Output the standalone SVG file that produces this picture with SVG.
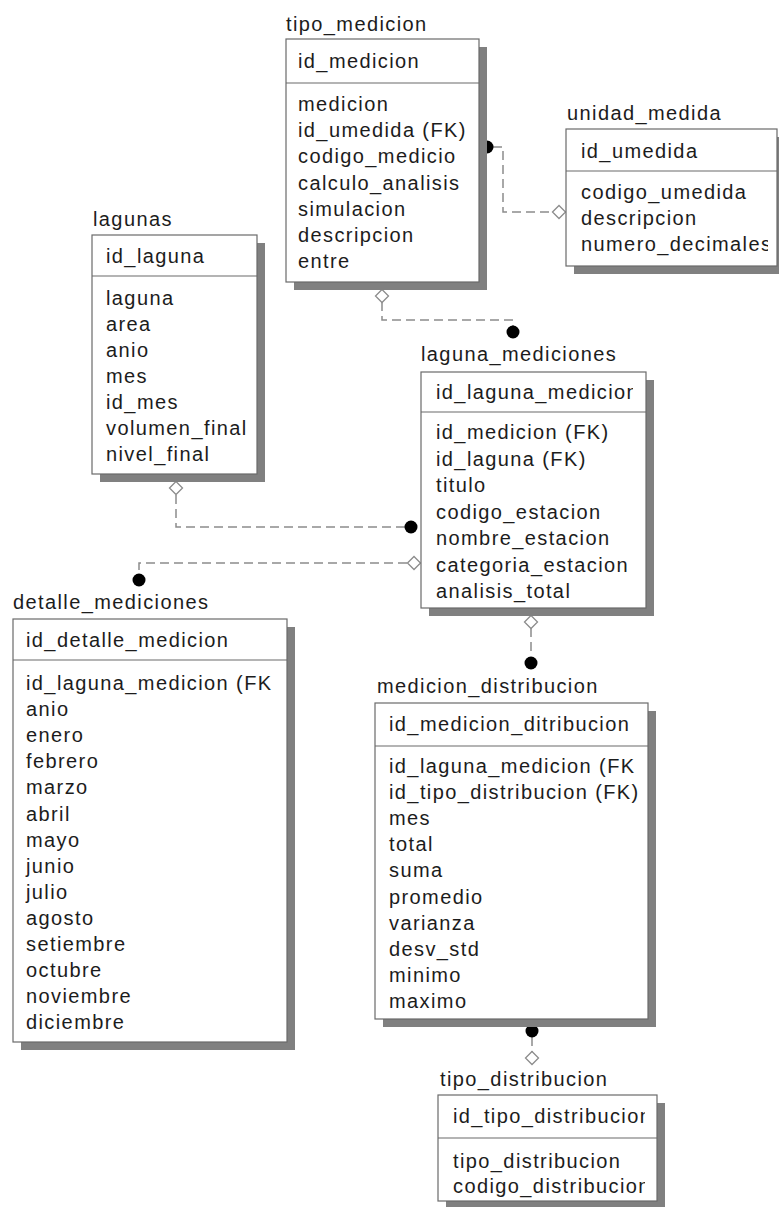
<svg xmlns="http://www.w3.org/2000/svg" width="779" height="1207" viewBox="0 0 779 1207">
<style>
.sh{fill:#808080;stroke:none}
.bx{fill:#fff;stroke:#6a6a6a;stroke-width:1.2}
.dv{stroke:#6a6a6a;stroke-width:1.2}
text{font-family:"Liberation Sans",Arial,sans-serif;font-size:20px;letter-spacing:1.4px;fill:#1c1c1c}
.cn{fill:none;stroke:#8c8c8c;stroke-width:1.5;stroke-dasharray:9 5}
.dot{fill:#000}
.dia{fill:#fff;stroke:#8c8c8c;stroke-width:1.3}
</style>
<defs>
<clipPath id="cUm"><rect x="566" y="129" width="202" height="137"/></clipPath>
<clipPath id="cLm"><rect x="421" y="372" width="212" height="236"/></clipPath>
<clipPath id="cTd"><rect x="438" y="1095" width="207" height="112"/></clipPath>
</defs>
<rect width="779" height="1207" fill="#fff"/>

<g id="connectors">
<path class="cn" d="M493 147 H503 V212 H552"/>
<circle class="dot" cx="487" cy="147" r="6.5"/>
<path class="dia" d="M552.5 212 L559 205.5 L565.5 212 L559 218.5 Z"/>

<path class="cn" d="M382 302 V320 H513 V326"/>
<path class="dia" d="M382 289.5 L388.5 296 L382 302.5 L375.5 296 Z"/>
<circle class="dot" cx="513" cy="332" r="6.5"/>

<path class="cn" d="M176 495 V527 H405"/>
<path class="dia" d="M176 481.5 L182.5 488 L176 494.5 L169.5 488 Z"/>
<circle class="dot" cx="411" cy="527" r="6.5"/>

<path class="cn" d="M407 563 H139 V573"/>
<path class="dia" d="M407.5 563 L414 556.5 L420.5 563 L414 569.5 Z"/>
<circle class="dot" cx="139" cy="580" r="6.5"/>

<path class="cn" d="M531 628 V656"/>
<path class="dia" d="M531 615.5 L537.5 622 L531 628.5 L524.5 622 Z"/>
<circle class="dot" cx="531" cy="663" r="6.5"/>

<path class="cn" d="M532 1037 V1052"/>
<circle class="dot" cx="532" cy="1031" r="6.5"/>
<path class="dia" d="M532 1051.5 L538.5 1058 L532 1064.5 L525.5 1058 Z"/>
</g>

<g id="tipo_medicion">
<text x="286" y="31">tipo_medicion</text>
<rect class="sh" x="294" y="47" width="193" height="243"/>
<rect class="bx" x="286" y="39" width="193" height="243"/>
<line class="dv" x1="286" y1="83" x2="479" y2="83"/>
<text x="298" y="68">id_medicion</text>
<text x="298" y="111">medicion</text>
<text x="298" y="137.2">id_umedida (FK)</text>
<text x="298" y="163.4">codigo_medicio</text>
<text x="298" y="189.6">calculo_analisis</text>
<text x="298" y="215.8">simulacion</text>
<text x="298" y="242">descripcion</text>
<text x="298" y="268.2">entre</text>
</g>

<g id="unidad_medida">
<text x="567" y="120">unidad_medida</text>
<rect class="sh" x="574" y="137" width="211" height="137"/>
<rect class="bx" x="566" y="129" width="211" height="137"/>
<line class="dv" x1="566" y1="171" x2="777" y2="171"/>
<g clip-path="url(#cUm)">
<text x="581" y="158">id_umedida</text>
<text x="581" y="199">codigo_umedida</text>
<text x="581" y="225">descripcion</text>
<text x="581" y="251">numero_decimales</text>
</g>
</g>

<g id="lagunas">
<text x="93" y="226">lagunas</text>
<rect class="sh" x="100" y="243" width="165" height="239"/>
<rect class="bx" x="92" y="235" width="165" height="239"/>
<line class="dv" x1="92" y1="276" x2="257" y2="276"/>
<text x="106" y="263">id_laguna</text>
<text x="106" y="304.5">laguna</text>
<text x="106" y="330.6">area</text>
<text x="106" y="356.7">anio</text>
<text x="106" y="382.8">mes</text>
<text x="106" y="408.9">id_mes</text>
<text x="106" y="435">volumen_final</text>
<text x="106" y="461.1">nivel_final</text>
</g>

<g id="laguna_mediciones">
<text x="421" y="361">laguna_mediciones</text>
<rect class="sh" x="429" y="380" width="225" height="236"/>
<rect class="bx" x="421" y="372" width="225" height="236"/>
<line class="dv" x1="421" y1="412" x2="646" y2="412"/>
<text x="436" y="399" clip-path="url(#cLm)">id_laguna_medicion</text>
<text x="436" y="439">id_medicion (FK)</text>
<text x="436" y="465.5">id_laguna (FK)</text>
<text x="436" y="492">titulo</text>
<text x="436" y="518.5">codigo_estacion</text>
<text x="436" y="545">nombre_estacion</text>
<text x="436" y="571.5">categoria_estacion</text>
<text x="436" y="598">analisis_total</text>
</g>

<g id="detalle_mediciones">
<text x="13" y="609">detalle_mediciones</text>
<rect class="sh" x="21" y="627" width="274" height="423"/>
<rect class="bx" x="13" y="619" width="274" height="423"/>
<line class="dv" x1="13" y1="660" x2="287" y2="660"/>
<text x="26" y="647">id_detalle_medicion</text>
<text x="26" y="690">id_laguna_medicion (FK</text>
<text x="26" y="716.1">anio</text>
<text x="26" y="742.2">enero</text>
<text x="26" y="768.3">febrero</text>
<text x="26" y="794.4">marzo</text>
<text x="26" y="820.5">abril</text>
<text x="26" y="846.6">mayo</text>
<text x="26" y="872.7">junio</text>
<text x="26" y="898.8">julio</text>
<text x="26" y="924.9">agosto</text>
<text x="26" y="951">setiembre</text>
<text x="26" y="977.1">octubre</text>
<text x="26" y="1003.2">noviembre</text>
<text x="26" y="1029.3">diciembre</text>
</g>

<g id="medicion_distribucion">
<text x="377" y="693">medicion_distribucion</text>
<rect class="sh" x="383" y="711" width="273" height="316"/>
<rect class="bx" x="375" y="703" width="273" height="316"/>
<line class="dv" x1="375" y1="746" x2="648" y2="746"/>
<text x="389" y="731">id_medicion_ditribucion</text>
<text x="389" y="773">id_laguna_medicion (FK</text>
<text x="389" y="799.1">id_tipo_distribucion (FK)</text>
<text x="389" y="825.2">mes</text>
<text x="389" y="851.3">total</text>
<text x="389" y="877.4">suma</text>
<text x="389" y="903.5">promedio</text>
<text x="389" y="929.6">varianza</text>
<text x="389" y="955.7">desv_std</text>
<text x="389" y="981.8">minimo</text>
<text x="389" y="1007.9">maximo</text>
</g>

<g id="tipo_distribucion">
<text x="440" y="1086">tipo_distribucion</text>
<rect class="sh" x="446" y="1103" width="219" height="106"/>
<rect class="bx" x="438" y="1095" width="219" height="106"/>
<line class="dv" x1="438" y1="1138" x2="657" y2="1138"/>
<g clip-path="url(#cTd)">
<text x="453" y="1123">id_tipo_distribucion</text>
<text x="453" y="1168">tipo_distribucion</text>
<text x="453" y="1193">codigo_distribucion</text>
</g>
</g>
</svg>
